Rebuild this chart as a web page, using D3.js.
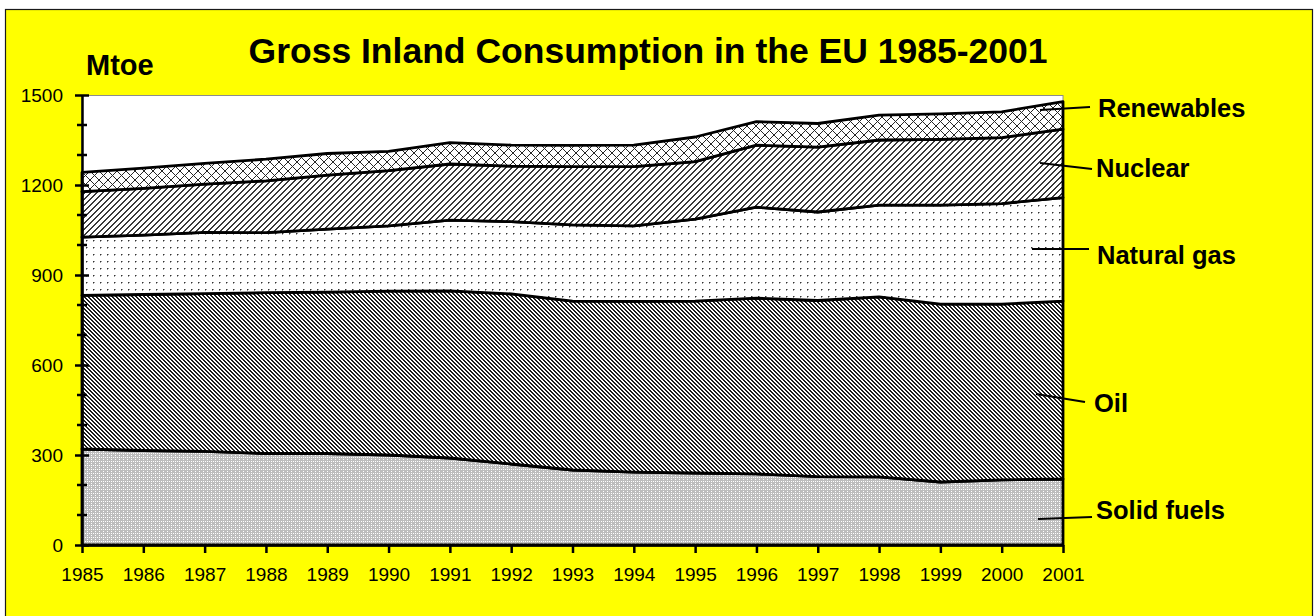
<!DOCTYPE html>
<html>
<head>
<meta charset="utf-8">
<title>Gross Inland Consumption in the EU 1985-2001</title>
<script src="https://cdn.jsdelivr.net/npm/d3@7"></script>
<style>
  html, body { margin: 0; padding: 0; background: #fff; }
  svg { display: block; font-family: "Liberation Sans", Arial, sans-serif; }
</style>
</head>
<body>
<svg id="chart" width="1315" height="616"></svg>
<script>
// Mtoe by fuel
const years = [1985, 1986, 1987, 1988, 1989, 1990, 1991, 1992, 1993, 1994, 1995, 1996, 1997, 1998, 1999, 2000, 2001];
const solidFuels = [320, 315, 312, 305, 305, 300, 290, 270, 250, 243, 240, 237, 228, 227, 210, 217, 220];
const oil        = [512, 520, 526, 536, 538, 546, 557, 567, 563, 569, 573, 586, 587, 600, 593, 586, 593];
const naturalGas = [194, 198, 204, 200, 210, 218, 236, 241, 254, 252, 273, 303, 295, 306, 330, 335, 345];
const nuclear    = [152, 156, 161, 173, 180, 184, 187, 185, 194, 197, 192, 207, 216, 217, 219, 220, 228];
const renewables = [64, 67, 69, 72, 72, 64, 71, 70, 71, 72, 82, 78, 79, 83, 85, 86, 92];

const seriesNames = ['Solid fuels', 'Oil', 'Natural gas', 'Nuclear', 'Renewables'];
const yTicks = [0, 300, 600, 900, 1200, 1500];
const yMinorTicks = d3.range(0, 1501, 100);

const title = 'Gross Inland Consumption in the EU 1985-2001';
const unitLabel = 'Mtoe';

// layout
const width = 1315, height = 616;
const plot = { left: 82, right: 1063, top: 95, bottom: 545 };

// leader line + label placement, in pixels
const labelLayout = {
  'Renewables':  { line: [1040, 110, 1090, 107], text: [1098, 117] },
  'Nuclear':     { line: [1040, 163, 1092, 169], text: [1096, 177] },
  'Natural gas': { line: [1032, 249, 1089, 249], text: [1097, 264] },
  'Oil':         { line: [1036, 394, 1085, 402], text: [1094, 412] },
  'Solid fuels': { line: [1038, 519, 1092, 517], text: [1096, 519] }
};

const svg = d3.select('#chart');
const defs = svg.append('defs');

// pixel patterns, drawn 1px at a time so they stay crisp
function pixelPattern(id, size, bg, paint) {
  const p = defs.append('pattern')
    .attr('id', id)
    .attr('patternUnits', 'userSpaceOnUse')
    .attr('width', size)
    .attr('height', size);
  p.append('rect').attr('width', size).attr('height', size).attr('fill', bg);
  for (let x = 0; x < size; x++) {
    for (let y = 0; y < size; y++) {
      const c = paint(x, y);
      if (c) {
        p.append('rect').attr('x', x).attr('y', y).attr('width', 1).attr('height', 1).attr('fill', c);
      }
    }
  }
}

pixelPattern('pat-solid', 4, '#bdbdbd', (x, y) => ((x === 1 && y === 1) || (x === 3 && y === 3) || (x === 3 && y === 1)) ? '#ffffff' : null);
pixelPattern('pat-oil', 4, '#ffffff', (x, y) => ((y - x + 8) % 4) < 2 ? '#1e1e1e' : null);
pixelPattern('pat-gas', 7, '#ffffff', (x, y) => {
  if (x === 2 && y === 2) return '#333333';
  if ((x === 3 && y === 2) || (x === 2 && y === 3)) return '#9a9a9a';
  return null;
});
pixelPattern('pat-nuclear', 6, '#ffffff', (x, y) => ((x + y) % 6) < 2 ? '#3a3a3a' : null);
pixelPattern('pat-renew', 9, '#ffffff', (x, y) => (x === y || x === 8 - y) ? '#262626' : null);

const fills = {
  'Solid fuels': 'url(#pat-solid)',
  'Oil': 'url(#pat-oil)',
  'Natural gas': 'url(#pat-gas)',
  'Nuclear': 'url(#pat-nuclear)',
  'Renewables': 'url(#pat-renew)'
};

// background + frame
svg.append('rect')
  .attr('x', 5.5).attr('y', 9.5)
  .attr('width', 1307).attr('height', 700)
  .attr('fill', '#ffff00')
  .attr('stroke', '#1a1a1a')
  .attr('stroke-width', 1.2);

// plot area
svg.append('rect')
  .attr('x', plot.left).attr('y', plot.top + 0.5)
  .attr('width', plot.right - plot.left).attr('height', plot.bottom - plot.top)
  .attr('fill', '#ffffff')
  .attr('stroke', '#8c8c8c')
  .attr('stroke-width', 1);

const x = d3.scaleLinear()
  .domain(d3.extent(years))
  .range([plot.left, plot.right]);

const y = d3.scaleLinear()
  .domain([0, 1500])
  .range([plot.bottom, plot.top]);

const rows = years.map((yr, i) => ({
  year: yr,
  'Solid fuels': solidFuels[i],
  'Oil': oil[i],
  'Natural gas': naturalGas[i],
  'Nuclear': nuclear[i],
  'Renewables': renewables[i]
}));

const stacked = d3.stack().keys(seriesNames)(rows);

const area = d3.area()
  .x(d => x(d.data.year))
  .y0(d => y(d[0]))
  .y1(d => y(d[1]));

svg.append('g')
  .selectAll('path')
  .data(stacked)
  .join('path')
  .attr('d', area)
  .attr('fill', d => fills[d.key])
  .attr('stroke', '#000')
  .attr('stroke-width', 2.8)
  .attr('stroke-linejoin', 'round');

// y axis: crossing ticks, major + minor
const yAxis = svg.append('g')
  .attr('transform', `translate(${plot.left},0)`)
  .call(d3.axisLeft(y).tickValues(yTicks).tickFormat(d3.format('d')).tickSize(7).tickSizeOuter(0).tickPadding(12));

yAxis.selectAll('.tick line').attr('x1', 7);

svg.append('g')
  .attr('transform', `translate(${plot.left},0)`)
  .selectAll('line')
  .data(yMinorTicks.filter(v => !yTicks.includes(v)))
  .join('line')
  .attr('x1', -5).attr('x2', 5)
  .attr('y1', d => y(d)).attr('y2', d => y(d))
  .attr('stroke', '#000')
  .attr('stroke-width', 2.5);

const xAxis = svg.append('g')
  .attr('transform', `translate(0,${plot.bottom})`)
  .call(d3.axisBottom(x).tickValues(years).tickFormat(d3.format('d')).tickSize(8).tickSizeOuter(0).tickPadding(15));

[xAxis, yAxis].forEach(g => {
  g.attr('font-family', null).attr('font-size', null);
  g.select('.domain').attr('stroke', '#000').attr('stroke-width', 2.5);
  g.selectAll('.tick line').attr('stroke', '#000').attr('stroke-width', 2.5);
  g.selectAll('.tick text')
    .attr('fill', '#000')
    .style('font-family', '"Liberation Sans", Arial, sans-serif')
    .style('font-size', '19px');
});

// series labels with leader lines
const labels = svg.append('g');
seriesNames.forEach(name => {
  const l = labelLayout[name];
  labels.append('line')
    .attr('x1', l.line[0]).attr('y1', l.line[1])
    .attr('x2', l.line[2]).attr('y2', l.line[3])
    .attr('stroke', '#000')
    .attr('stroke-width', 2.2);
  labels.append('text')
    .attr('x', l.text[0]).attr('y', l.text[1])
    .attr('font-size', 25.5)
    .attr('font-weight', 'bold')
    .text(name);
});

svg.append('text')
  .attr('x', 648).attr('y', 63)
  .attr('text-anchor', 'middle')
  .attr('font-size', 35.5)
  .attr('font-weight', 'bold')
  .text(title);

svg.append('text')
  .attr('x', 86).attr('y', 75)
  .attr('font-size', 29)
  .attr('font-weight', 'bold')
  .text(unitLabel);
</script>
</body>
</html>
